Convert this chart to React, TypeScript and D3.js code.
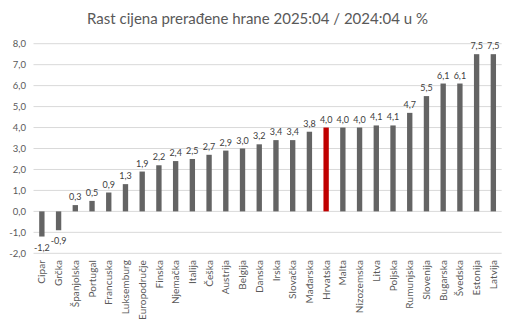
import React from "react";
import * as d3 from "d3";

const categories = ["Cipar","Grčka","Španjolska","Portugal","Francuska","Luksemburg","Europodručje","Finska","Njemačka","Italija","Češka","Austrija","Belgija","Danska","Irska","Slovačka","Mađarska","Hrvatska","Malta","Nizozemska","Litva","Poljska","Rumunjska","Slovenija","Bugarska","Švedska","Estonija","Latvija"];
const values = [-1.2,-0.9,0.3,0.5,0.9,1.3,1.9,2.2,2.4,2.5,2.7,2.9,3.0,3.2,3.4,3.4,3.8,4.0,4.0,4.0,4.1,4.1,4.7,5.5,6.1,6.1,7.5,7.5];
const highlight = ["Hrvatska"];
const yTicks = [-2,-1,0,1,2,3,4,5,6,7,8];
const title = "Rast cijena prerađene hrane 2025:04 / 2024:04 u %";

const W = 515, H = 325;
const FONT = "Lato, 'Open Sans', sans-serif";
const fmt = (v: number) => v.toFixed(1).replace(".", ",");

export default function App() {
  const x = d3.scaleBand<string>().domain(categories).range([33.5, 501.7]).paddingInner(0.68).paddingOuter(0.34);
  const y = d3.scaleLinear().domain([-2, 8]).range([253.3, 43.7]);
  const bw = x.bandwidth();
  return (
    <svg width={W} height={H} style={{ position: "absolute", left: 0, top: 0, background: "#fff" }} fontFamily={FONT}>
      <text x={257.5} y={24} textAnchor="middle" fontSize={15} fill="#595959">{title}</text>
      {yTicks.map((t) => (
        <g key={t}>
          <line x1={33.5} x2={501.7} y1={y(t)} y2={y(t)} stroke="#d9d9d9" strokeWidth={1} />
          <text x={26} y={y(t) + 3.5} textAnchor="end" fontSize={9.5} fill="#595959">{fmt(t)}</text>
        </g>
      ))}
      {categories.map((c, i) => {
        const v = values[i];
        const x0 = x(c)!;
        const top = y(Math.max(0, v));
        const h = Math.abs(y(v) - y(0));
        const cx = x0 + bw / 2;
        return (
          <g key={c}>
            <rect x={x0} y={top} width={bw} height={h} fill={highlight.includes(c) ? "#c00000" : "#646464"} />
            <text x={cx} y={v >= 0 ? y(v) - 5 : y(v) + 14} textAnchor="middle" fontSize={9} fill="#404040">{fmt(v)}</text>
            <text transform={`translate(${cx + 3.6},${260}) rotate(-90)`} textAnchor="end" fontSize={10} letterSpacing={0.1} fill="#595959">{c}</text>
          </g>
        );
      })}
    </svg>
  );
}
